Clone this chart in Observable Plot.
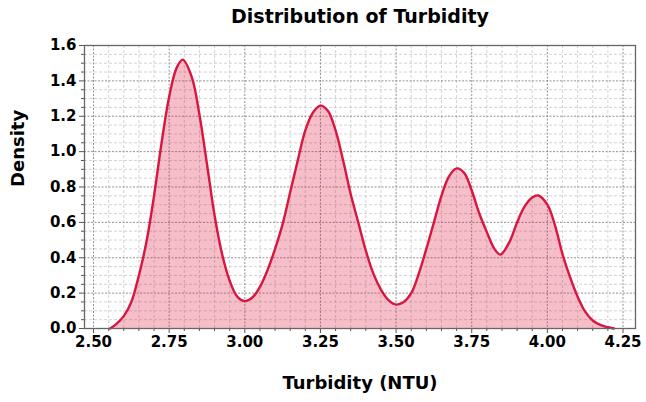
<!DOCTYPE html>
<html>
<head>
<meta charset="utf-8">
<script src="https://cdn.jsdelivr.net/npm/d3@7"></script>
<script src="https://cdn.jsdelivr.net/npm/@observablehq/plot@0.6"></script>
<style>
  html, body { margin: 0; padding: 0; background: #fff; }
  #chart svg { display: block; }
</style>
</head>
<body>
<div id="chart"></div>
<script>
// Turbidity values (NTU) and estimated KDE density
const turbidity = [2.555, 2.575, 2.60, 2.625, 2.65, 2.675, 2.70, 2.725, 2.75, 2.775, 2.795, 2.825, 2.85, 2.875, 2.90, 2.925, 2.95, 2.975,
  3.00, 3.025, 3.05, 3.075, 3.10, 3.125, 3.15, 3.175, 3.20, 3.225, 3.25, 3.275, 3.30, 3.325, 3.35, 3.375, 3.40, 3.425, 3.45, 3.475,
  3.50, 3.525, 3.55, 3.575, 3.60, 3.625, 3.65, 3.675, 3.70, 3.725, 3.75, 3.775, 3.80, 3.825, 3.845, 3.875, 3.90, 3.925, 3.95, 3.97,
  4.00, 4.025, 4.05, 4.075, 4.10, 4.125, 4.15, 4.175, 4.20, 4.22];
const density = [0.0, 0.025, 0.07, 0.15, 0.30, 0.49, 0.75, 1.05, 1.31, 1.475, 1.52, 1.42, 1.21, 0.93, 0.64, 0.42, 0.27, 0.18,
  0.155, 0.175, 0.235, 0.33, 0.45, 0.59, 0.77, 0.95, 1.12, 1.22, 1.26, 1.23, 1.12, 0.95, 0.76, 0.60, 0.44, 0.31, 0.22, 0.16,
  0.135, 0.15, 0.20, 0.31, 0.45, 0.60, 0.75, 0.86, 0.905, 0.88, 0.78, 0.65, 0.545, 0.45, 0.418, 0.49, 0.60, 0.69, 0.74, 0.752,
  0.70, 0.585, 0.42, 0.29, 0.18, 0.095, 0.045, 0.02, 0.007, 0.0];

const xTicks = [2.50, 2.75, 3.00, 3.25, 3.50, 3.75, 4.00, 4.25];
const yTicks = [0.0, 0.2, 0.4, 0.6, 0.8, 1.0, 1.2, 1.4, 1.6];
const xMinor = d3.range(2.50, 4.2901, 0.05).map(v => +v.toFixed(2)).filter(v => !xTicks.some(t => Math.abs(t - v) < 1e-9));
const yMinor = d3.range(0, 1.6001, 0.05).map(v => +v.toFixed(2)).filter(v => !yTicks.some(t => Math.abs(t - v) < 1e-9));

const title = "Distribution of Turbidity";
const xLabel = "Turbidity (NTU)";
const yLabel = "Density";

const data = turbidity.map((x, i) => ({x, y: density[i]}));

const chart = Plot.plot({
  width: 646,
  height: 402,
  marginLeft: 84,
  marginRight: 11,
  marginTop: 45,
  marginBottom: 74,
  style: {fontFamily: "DejaVu Sans", fontSize: "15px", fontWeight: "bold", color: "#000", background: "#fff"},
  x: {domain: [2.4702, 4.2913], label: null},
  y: {domain: [0, 1.6], label: null},
  marks: [
    Plot.gridX(xMinor, {stroke: "#c8c8c8", strokeOpacity: 1, strokeDasharray: "3,2", strokeWidth: 0.8}),
    Plot.gridY(yMinor, {stroke: "#c8c8c8", strokeOpacity: 1, strokeDasharray: "3,2", strokeWidth: 0.8}),
    Plot.gridX(xTicks, {stroke: "#777", strokeOpacity: 1, strokeDasharray: "2,1.5", strokeWidth: 0.8}),
    Plot.gridY(yTicks, {stroke: "#777", strokeOpacity: 1, strokeDasharray: "2,1.5", strokeWidth: 0.8}),
    Plot.areaY(data, {x: "x", y: "y", fill: "#dc143c", fillOpacity: 0.28, curve: "catmull-rom"}),
    Plot.lineY(data, {x: "x", y: "y", stroke: "#d8163f", strokeWidth: 2.4, curve: "catmull-rom"}),
    Plot.axisX(xMinor, {tickSize: 3, tickFormat: () => "", stroke: "#555"}),
    Plot.axisY(yMinor, {tickSize: 3, tickFormat: () => "", stroke: "#555"}),
    Plot.axisX(xTicks, {tickSize: 5, tickPadding: 3, tickFormat: d3.format(".2f"), stroke: "#555", fontSize: 15, fontWeight: "bold", fill: "#000"}),
    Plot.axisY(yTicks, {tickSize: 5, tickPadding: 3, tickFormat: d3.format(".1f"), stroke: "#555", fontSize: 15, fontWeight: "bold", fill: "#000"}),
    Plot.frame({stroke: "#666", strokeWidth: 1.3}),
    Plot.text([title], {frameAnchor: "top", lineAnchor: "middle", dy: -29, fontSize: 19, fontWeight: "bold", fill: "#000"}),
    Plot.text([xLabel], {frameAnchor: "bottom", lineAnchor: "middle", dy: 55, fontSize: 18, fontWeight: "bold", fill: "#000"}),
    Plot.text([yLabel], {frameAnchor: "left", dx: -66, rotate: -90, fontSize: 18, fontWeight: "bold", fill: "#000"})
  ]
});
document.getElementById("chart").appendChild(chart);
</script>
</body>
</html>
